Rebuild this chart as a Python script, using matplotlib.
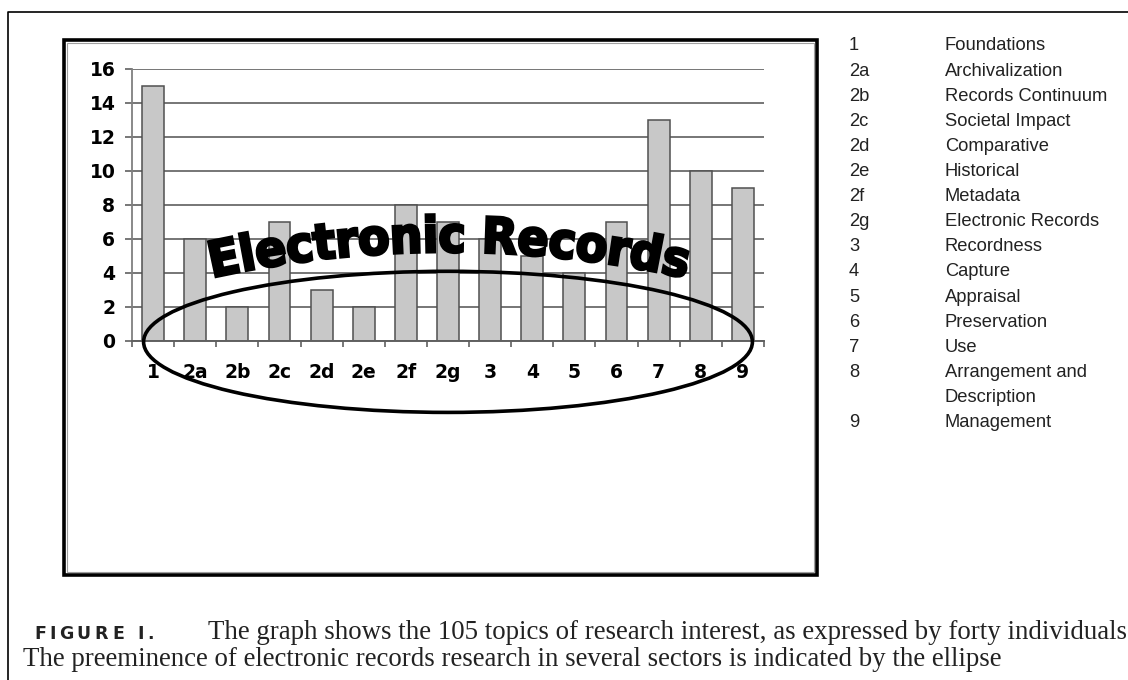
import numpy as np
import matplotlib
matplotlib.use("Agg")
import matplotlib.pyplot as plt
from matplotlib.patches import Ellipse, Rectangle, PathPatch
from matplotlib.lines import Line2D
from matplotlib.path import Path
from matplotlib.textpath import TextPath
from matplotlib.font_manager import FontProperties

# ---- data -----------------------------------------------------------------
categories = ["1", "2a", "2b", "2c", "2d", "2e", "2f", "2g",
              "3", "4", "5", "6", "7", "8", "9"]
counts = [15, 6, 2, 7, 3, 2, 8, 7, 6, 5, 4, 7, 13, 10, 9]
y_ticks = [0, 2, 4, 6, 8, 10, 12, 14, 16]

key_codes = ["1", "2a", "2b", "2c", "2d", "2e", "2f", "2g",
             "3", "4", "5", "6", "7", "8", "", "9"]
key_names = ["Foundations", "Archivalization", "Records Continuum",
             "Societal Impact", "Comparative", "Historical", "Metadata",
             "Electronic Records", "Recordness", "Capture", "Appraisal",
             "Preservation", "Use", "Arrangement and", "Description",
             "Management"]

banner = "Electronic Records"
caption_head = "FIGURE I."
caption_line1 = ("The graph shows the 105 topics of research interest, "
                 "as expressed by forty individuals")
caption_line2 = ("The preeminence of electronic records research in "
                 "several sectors is indicated by the ellipse")

# ---- figure ---------------------------------------------------------------
W, H = 1128, 680
fig = plt.figure(figsize=(W / 100, H / 100), dpi=100)
fig.patch.set_facecolor("white")


def fx(x):
    return x / W


def fy(y):
    return 1 - y / H


# outer page frame
fig.add_artist(Line2D([fx(8), fx(8), fx(W + 5)], [fy(H + 5), fy(12), fy(12)],
                      transform=fig.transFigure, color="black", lw=1.2))

# chart frame with a light inner shadow
fig.add_artist(Rectangle((fx(63.5), fy(575)), fx(817) - fx(63.5), fy(40) - fy(575),
                         transform=fig.transFigure, fill=False,
                         edgecolor="black", lw=2.6))
fig.add_artist(Rectangle((fx(66.5), fy(572)), fx(814) - fx(66.5), fy(43) - fy(572),
                         transform=fig.transFigure, fill=False,
                         edgecolor="#a0a0a0", lw=0.8))

# ---- bar chart ------------------------------------------------------------
ax = fig.add_axes([fx(132), fy(341), fx(764) - fx(132), fy(69) - fy(341)])
x = np.arange(len(categories))
ax.bar(x, counts, width=0.52, color="#c8c8c8", edgecolor="#505050",
       linewidth=1.1, zorder=2)
ax.set_xlim(-0.5, len(categories) - 0.5)
ax.set_ylim(0, 16)
ax.set_yticks(y_ticks)
ax.yaxis.grid(True, color="#767676", lw=1.4)
ax.set_axisbelow(True)
for s in ("top", "right"):
    ax.spines[s].set_visible(False)
ax.spines["left"].set_color("#808080")
ax.spines["left"].set_linewidth(1.3)
ax.spines["bottom"].set_color("#606060")
ax.spines["bottom"].set_linewidth(1.4)

tick_font = dict(family="DejaVu Sans", weight="bold", size=13.5)
ax.set_yticklabels([str(v) for v in y_ticks], fontdict=tick_font)
ax.tick_params(axis="y", length=5, width=1.2, color="#606060", pad=7)
ax.set_xticks(x)
ax.set_xticklabels(categories, fontdict=tick_font)
ax.set_xticks(np.arange(-0.5, len(categories)), minor=True)
ax.tick_params(axis="x", which="major", length=0, pad=16)
ax.tick_params(axis="x", which="minor", length=4.5, width=1.2, color="#606060")

# ellipse around the electronic-records sectors
ax.add_patch(Ellipse((7.0, -0.05), 14.45, 8.3, fill=False, edgecolor="black",
                     lw=2.6, zorder=5, clip_on=False))

# arched banner text
fp = FontProperties(family="DejaVu Sans", weight="bold")
tp = TextPath((0, 0), banner, size=1, prop=fp)
verts = tp.vertices.copy()
cap_h = TextPath((0, 0), "E", size=1, prop=fp).vertices[:, 1].max()
xmin, xmax = verts[:, 0].min(), verts[:, 0].max()
sx = 476 / (xmax - xmin)
sy = 36 / cap_h
R = 1100.0
cx, peak_y = 448.0, 252.0
s_arc = (verts[:, 0] - (xmin + xmax) / 2) * sx
h = verts[:, 1] * sy
theta = s_arc / R
px = cx + (R + h) * np.sin(theta)
py = (peak_y + R) - (R + h) * np.cos(theta)
warped = Path(np.column_stack([fx(px), fy(py)]), tp.codes)
fig.add_artist(PathPatch(warped, transform=fig.transFigure, facecolor="black",
                         edgecolor="black", lw=2.0, zorder=10))

# ---- key ------------------------------------------------------------------
key_font = dict(family="Liberation Sans", size=13.2, color="#222222")
for i, (c, n) in enumerate(zip(key_codes, key_names)):
    yy = 46 + 25.1 * i
    fig.text(fx(849), fy(yy), c, va="center", ha="left", **key_font)
    fig.text(fx(945), fy(yy), n, va="center", ha="left", **key_font)

# ---- caption --------------------------------------------------------------
renderer = fig.canvas.get_renderer()
head_size = 12.5
head_fp = FontProperties(family="DejaVu Sans", weight="bold", size=head_size)
chars = list(caption_head)
widths = []
for ch in chars:
    if ch == " ":
        widths.append(5)
        continue
    tw = TextPath((0, 0), ch, size=head_size * 100 / 72,
                  prop=FontProperties(family="DejaVu Sans", weight="bold"))
    widths.append(tw.vertices[:, 0].max())
span = 152 - 34
track = (span - sum(widths)) / (len(chars) - 1)
xx = 34.0
base1, base2 = 639, 666
for ch, w in zip(chars, widths):
    if ch != " ":
        fig.text(fx(xx), fy(base1), ch, ha="left", va="baseline",
                 fontproperties=head_fp, color="#222222")
    xx += w + track

cap_font = dict(family="Liberation Serif", color="#222222")
t1 = fig.text(fx(208), fy(base1), caption_line1, ha="left", va="baseline",
              size=17, **cap_font)
bb = t1.get_window_extent(renderer)
size = 17 * (1130 - 208) / bb.width
t1.set_size(size)
fig.text(fx(23), fy(base2), caption_line2, ha="left", va="baseline",
         size=size, **cap_font)

fig.savefig("out.png", dpi=100, facecolor="white")
